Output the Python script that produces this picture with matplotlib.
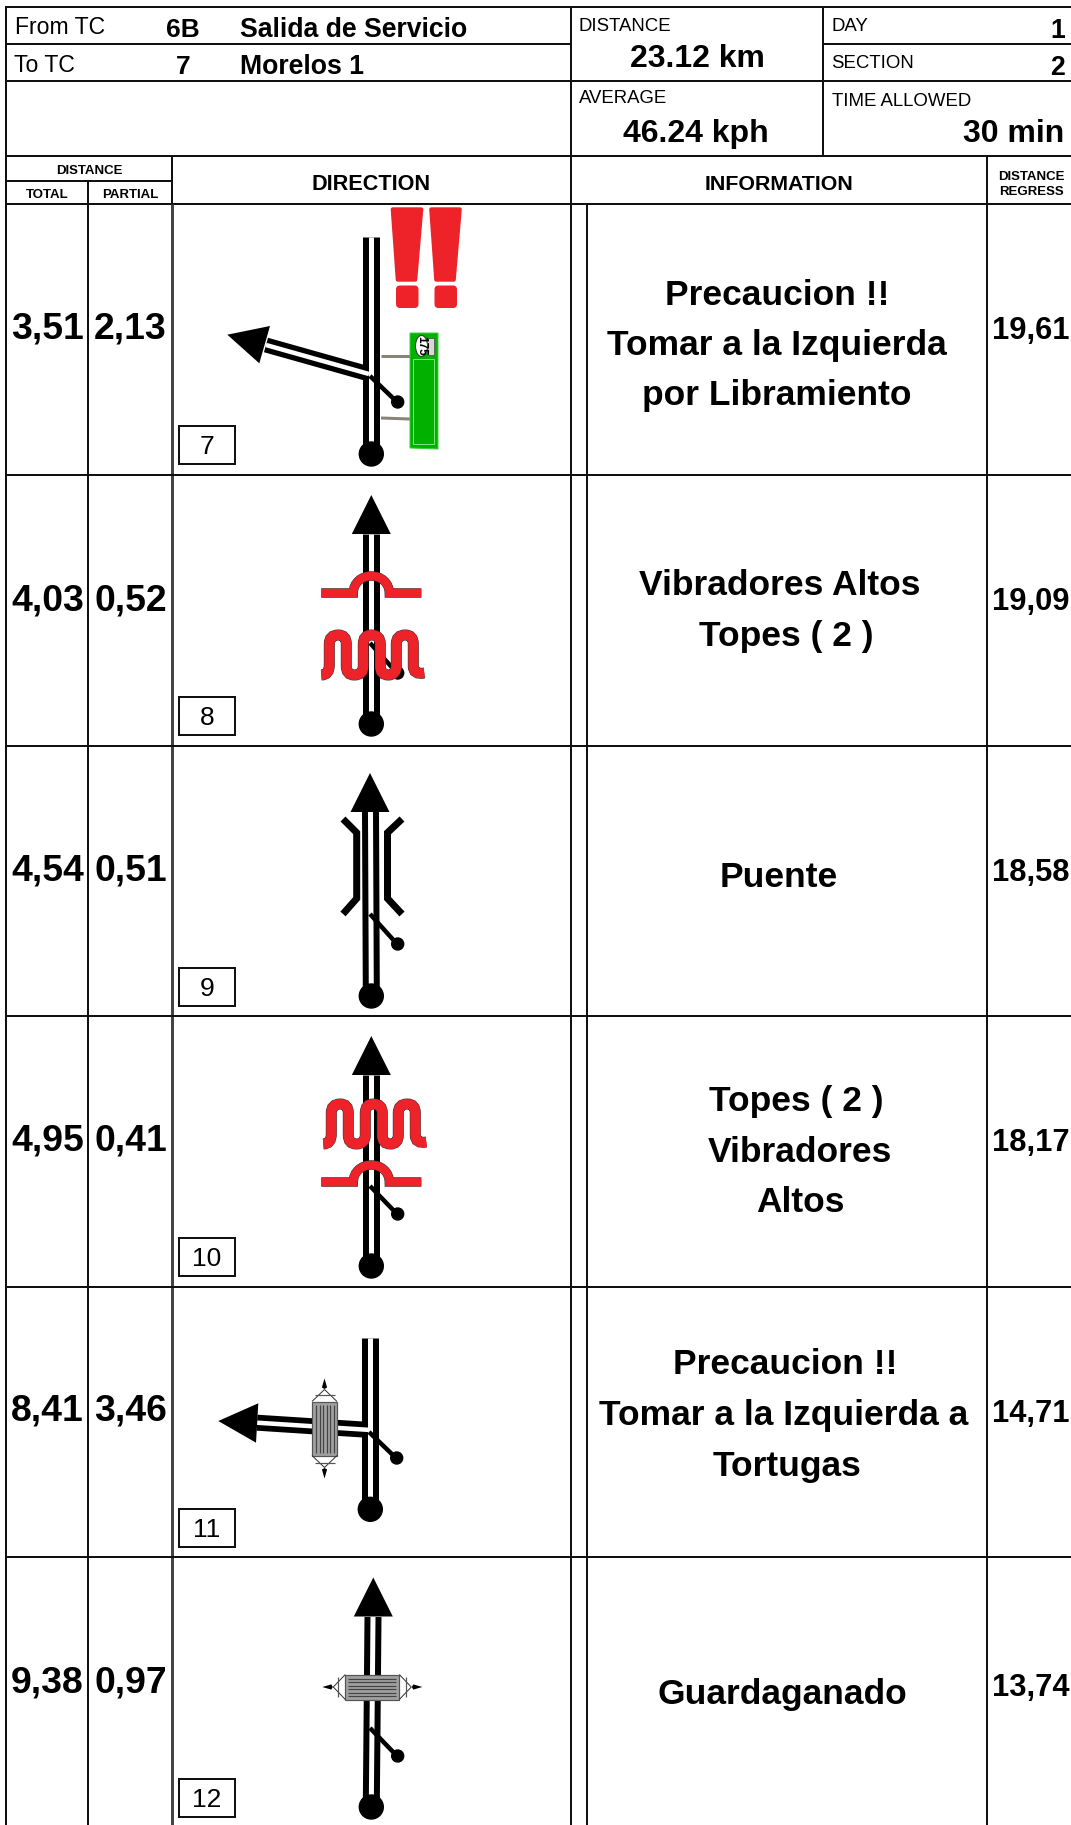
# Roadbook page

import matplotlib
matplotlib.use('Agg')
import matplotlib.pyplot as plt
from matplotlib.path import Path
from matplotlib.patches import PathPatch, Polygon, Circle, Rectangle, Ellipse, FancyBboxPatch

plt.rcParams['font.family'] = ['Liberation Sans', 'DejaVu Sans']

totals = ['3,51', '4,03', '4,54', '4,95', '8,41', '9,38']
partials = ['2,13', '0,52', '0,51', '0,41', '3,46', '0,97']
regress = ['19,61', '19,09', '18,58', '18,17', '14,71', '13,74']
box_numbers = ['7', '8', '9', '10', '11', '12']
info_lines = [
    ['Precaucion !!', 'Tomar a la Izquierda', 'por Libramiento'],
    ['Vibradores Altos', 'Topes ( 2 )'],
    ['Puente'],
    ['Topes ( 2 )', 'Vibradores', 'Altos'],
    ['Precaucion !!', 'Tomar a la Izquierda a', 'Tortugas'],
    ['Guardaganado'],
]

# layout, in pixels of the page
row_top = [204, 475, 746, 1016, 1287, 1557]
num_off = [134, 135, 134, 134, 134, 136]
reg_off = [135, 135, 135, 135, 135, 139]
info_x = [[777, 777, 777], [780, 786], [779], [796, 800, 800], [785, 784, 787], [782]]
info_y = [[305, 355, 405], [595, 646], [887], [1111, 1162, 1212], [1374, 1425, 1476], [1704]]

RED = '#ee2229'
cx = 371.3


def px(n):
    return n * 0.72


fig = plt.figure(figsize=(10.71, 18.25), dpi=100)
ax = fig.add_axes([0, 0, 1, 1])
ax.set_xlim(0, 1071)
ax.set_ylim(1825, 0)
ax.axis('off')


def line(xs, ys, w=2, color='#111111', z=2):
    ax.plot(xs, ys, color=color, lw=px(w), solid_capstyle='butt', solid_joinstyle='miter', zorder=z)


def road(x0, y0, x1, y1, w=17, inner=5):
    line([x0, x1], [y0, y1], w, 'black', 3)
    line([x0, x1], [y0, y1], inner, 'white', 3.1)


def stub(y0, y1, x=371):
    line([x - 1, x + 26], [y0, y1], 4.5, 'black', 3.3)
    ax.add_patch(Circle((x + 26.7, y1), 6, color='black', zorder=3.3))


def end_dot(x, y):
    ax.add_patch(Circle((x, y), 12, color='black', zorder=3.2))


def head(pts):
    ax.add_patch(Polygon(pts, closed=True, color='black', lw=0, zorder=3.4))


def up_head(x, y):
    head([(x, y), (x - 19.5, y + 39), (x + 19.5, y + 39)])


def red_stroke(verts, codes, w):
    path = Path(verts, codes)
    ax.add_patch(PathPatch(path, fill=False, ec='#333333', lw=px(w + 1), capstyle='butt', zorder=4))
    ax.add_patch(PathPatch(path, fill=False, ec=RED, lw=px(w), capstyle='butt', zorder=4.1))


def bump(x, y):
    offs = [(-50, 0), (-18, 0), (-18, -10), (-10, -17), (0, -17), (10, -17), (18, -10), (18, 0), (50, 0)]
    codes = [Path.MOVETO, Path.LINETO, Path.CURVE4, Path.CURVE4, Path.CURVE4,
             Path.CURVE4, Path.CURVE4, Path.CURVE4, Path.LINETO]
    red_stroke([(x + a, y + b) for a, b in offs], codes, 8.5)


def wave(x, y):
    offs = [(-50, 40), (-42, 40), (-42, 30), (-42, 9), (-42, 0), (-33, 0), (-25, 0), (-25, 9),
            (-25, 31), (-25, 40), (-17, 40), (-8, 40), (-8, 31), (-8, 9), (-8, 0), (0, 0),
            (9, 0), (9, 9), (9, 31), (9, 40), (17, 40), (25, 40), (25, 31), (25, 9), (25, 0),
            (34, 0), (42, 0), (42, 9), (42, 31), (42, 40), (53, 38)]
    c3 = Path.CURVE3
    codes = [Path.MOVETO, c3, c3, Path.LINETO, c3, c3, c3, c3,
             Path.LINETO, c3, c3, c3, c3, Path.LINETO, c3, c3,
             c3, c3, Path.LINETO, c3, c3, c3, c3, Path.LINETO, c3,
             c3, c3, c3, Path.LINETO, c3, c3]
    red_stroke([(x + a, y + b) for a, b in offs], codes, 10)


def cattle_grid(x, y, horiz):
    # a, b are along and across the road being crossed
    def xy(a, b):
        return (x + a, y + b) if horiz else (x + b, y + a)
    ax.add_patch(Polygon([xy(-27, -12.5), xy(27, -12.5), xy(27, 12.5), xy(-27, 12.5)], closed=True,
                         fc='#a0a0a0', ec='#555555', lw=px(1.2), zorder=4))
    for b in [-8.5, -5, -1.5, 2, 5.5, 9]:
        p0, p1 = xy(-24, b), xy(24, b)
        line([p0[0], p1[0]], [p0[1], p1[1]], 1.2, '#444444', 4.1)
    for s in [-1, 1]:
        tri = [xy(s * 27, -12.5), xy(s * 39, 0), xy(s * 27, 12.5)]
        ax.add_patch(Polygon(tri, closed=False, fill=False, ec='#333333', lw=px(1), zorder=4))
        p0, p1 = xy(s * 34, -10), xy(s * 34, 10)
        line([p0[0], p1[0]], [p0[1], p1[1]], 1.2, '#555555', 4)
        arrow = [xy(s * 41, -2.6), xy(s * 50, 0), xy(s * 41, 2.6), xy(s * 39.5, 0)]
        ax.add_patch(Polygon(arrow, closed=True, color='black', lw=0, zorder=4))


# frame
line([5, 1071], [7, 7])
line([6, 6], [6, 1825])
line([6, 571], [44, 44])
line([823, 1071], [44, 44])
line([6, 1071], [81, 81])
line([6, 1071], [156, 156])
line([6, 172], [181, 181])
line([6, 1071], [204, 204])
line([571, 571], [7, 1825])
line([823, 823], [7, 156])
line([172, 172], [156, 204])
line([172, 172], [204, 1825], 3, '#444444')
line([88, 88], [181, 1825])
line([587, 587], [204, 1825])
line([987, 987], [156, 1825])
for top in row_top[1:]:
    line([6, 1071], [top, top])

# header
ax.text(15, 34, 'From TC', fontsize=16.6, va='baseline')
ax.text(14, 71.5, 'To TC', fontsize=16.6, va='baseline')
ax.text(166, 36.5, '6B', fontsize=19, weight='bold', va='baseline')
ax.text(176, 74, '7', fontsize=19, weight='bold', va='baseline')
ax.text(240, 36.5, 'Salida de Servicio', fontsize=19.2, weight='bold', va='baseline')
ax.text(240, 74, 'Morelos 1', fontsize=19.2, weight='bold', va='baseline')
ax.text(579, 30.5, 'DISTANCE', fontsize=13.4, va='baseline')
ax.text(579, 102.5, 'AVERAGE', fontsize=13.4, va='baseline')
ax.text(831.5, 30.5, 'DAY', fontsize=13.4, va='baseline')
ax.text(831.5, 68, 'SECTION', fontsize=13.4, va='baseline')
ax.text(831.5, 105.5, 'TIME ALLOWED', fontsize=13.4, va='baseline')
ax.text(697, 66.5, '23.12 km', fontsize=23, weight='bold', ha='center', va='baseline')
ax.text(696, 141.5, '46.24 kph', fontsize=23, weight='bold', ha='center', va='baseline')
ax.text(1064, 141.5, '30 min', fontsize=23, weight='bold', ha='right', va='baseline')
ax.text(1065, 38, '1', fontsize=19.2, weight='bold', ha='right', va='baseline')
ax.text(1065, 75, '2', fontsize=19.2, weight='bold', ha='right', va='baseline')
ax.text(89, 174, 'DISTANCE', fontsize=9.5, weight='bold', ha='center', va='baseline')
ax.text(47, 198, 'TOTAL', fontsize=9.5, weight='bold', ha='center', va='baseline')
ax.text(130, 198, 'PARTIAL', fontsize=9.5, weight='bold', ha='center', va='baseline')
ax.text(371, 190, 'DIRECTION', fontsize=15.6, weight='bold', ha='center', va='baseline')
ax.text(779, 190, 'INFORMATION', fontsize=15.4, weight='bold', ha='center', va='baseline')
ax.text(1031, 180, 'DISTANCE', fontsize=9.5, weight='bold', ha='center', va='baseline')
ax.text(1031, 195, 'REGRESS', fontsize=9.5, weight='bold', ha='center', va='baseline')

# rows of text
for i, top in enumerate(row_top):
    ax.text(11, top + num_off[i], totals[i], fontsize=26.9, weight='bold', va='baseline')
    ax.text(94, top + num_off[i], partials[i], fontsize=26.9, weight='bold', va='baseline')
    ax.text(992, top + reg_off[i], regress[i], fontsize=22.2, weight='bold', va='baseline')
    for txt, x, y in zip(info_lines[i], info_x[i], info_y[i]):
        ax.text(x, y, txt, fontsize=25.5, weight='bold', ha='center', va='baseline')
    ax.add_patch(Rectangle((179, top + 222), 56, 38, fc='white', ec='#111111', lw=px(2), zorder=2))
    ax.text(207, top + 250, box_numbers[i], fontsize=19, ha='center', va='baseline', zorder=3)

# row 1, left turn with sign
t = row_top[0]
road(cx, 237, cx, 450)
road(369, 374, 266, 345, 15, 4.5)
head([(227.3, 334.7), (270, 326), (259.3, 363.3)])
stub(t + 172, t + 198)
end_dot(cx, 454)
for off in [0, 38.5]:
    ax.add_patch(Polygon([(392.7 + off, 209.3), (421.3 + off, 209.3), (415.3 + off, 279.7), (397.7 + off, 279.7)],
                         closed=True, fc=RED, ec=RED, lw=px(4), joinstyle='round', zorder=3))
    ax.add_patch(FancyBboxPatch((398.5 + off, 288), 17.5, 17.5, boxstyle='round,pad=2.5,rounding_size=4',
                                fc=RED, ec=RED, lw=0, zorder=3))
line([381, 410], [355.5, 355.5], 3, '#8a8378')
line([381, 410], [418, 419], 3, '#8a8378')
ax.add_patch(Polygon([(410, 333), (438, 333), (438, 449), (410, 448)], closed=True,
                     fc='#00b100', ec='#3ccf3c', lw=px(1), zorder=3))
ax.add_patch(Rectangle((413, 359), 21, 85, fill=False, ec='#7fe07f', lw=px(1), zorder=3.1))
ax.add_patch(Ellipse((421.5, 346), 12, 21, fc='white', ec='#333333', lw=px(1), zorder=3.1))
ax.add_patch(Rectangle((427, 338), 7, 17, fc='#d8d8d8', ec='#555555', lw=px(0.8), zorder=3.1))
ax.text(421.5, 346, '175', fontsize=8.5, weight='bold', rotation=-90, ha='center', va='center', zorder=3.2)

# row 2, bump then speed humps
t = row_top[1]
road(cx, 534, cx, 720)
up_head(cx, 495)
stub(t + 168, t + 198)
end_dot(cx, t + 249)
bump(cx, t + 118)
wave(cx, t + 160)

# row 3, bridge
t = row_top[2]
road(370.5, 812, cx, 990)
up_head(370, 773)
stub(t + 168, t + 198)
end_dot(cx, t + 250)
line([343, 356.7, 356.7, 343], [819, 832.7, 898.5, 914], 7, 'black', 3)
line([402, 387.5, 387.5, 402], [819, 832.7, 898.5, 914], 7, 'black', 3)

# row 4, speed humps then bump
t = row_top[3]
road(cx, 1075, cx, 1260)
up_head(cx, 1036)
stub(t + 170, t + 198)
end_dot(cx, t + 250)
wave(cx + 2, t + 88)
bump(cx, t + 166)

# row 5, left turn over a cattle grid
t = row_top[4]
road(370.3, 1338, 370.3, 1505)
road(370.7, 1430, 257, 1422.7, 16, 4.5)
head([(218.3, 1421), (258.3, 1403.3), (256, 1442.7)])
stub(t + 145, t + 171, 370)
end_dot(370.3, 1509.3)
cattle_grid(324.5, 1428.5, False)

# row 6, cattle grid
t = row_top[5]
road(373, 1617, cx, 1805)
up_head(373.3, 1577.5)
stub(t + 171, t + 199)
end_dot(cx, t + 250)
cattle_grid(372.3, 1687, True)

fig.savefig('out.png', dpi=100)
